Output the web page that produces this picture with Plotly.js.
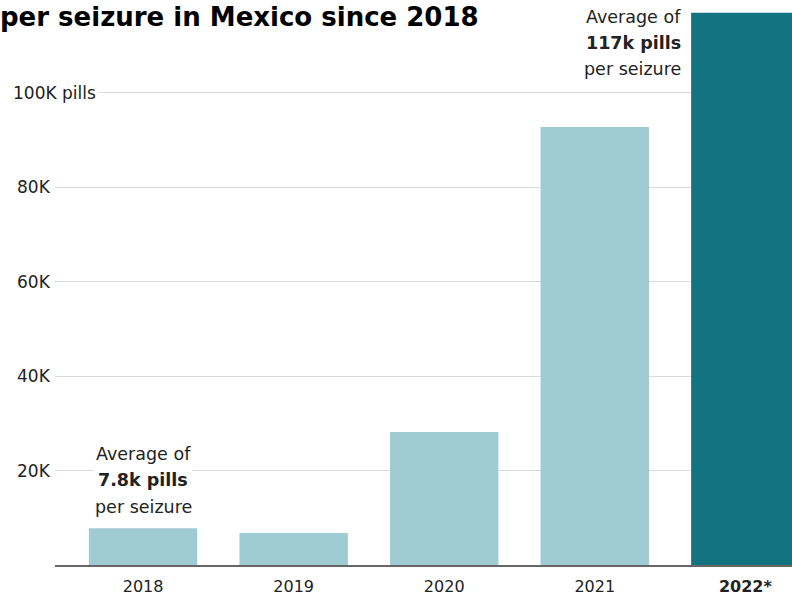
<!DOCTYPE html>
<html>
<head>
<meta charset="utf-8">
<script src="https://cdn.plot.ly/plotly-3.0.1.min.js"></script>
<style>html,body{margin:0;padding:0;background:#fff;}#chart{width:792px;height:596px;}</style>
</head>
<body>
<div id="chart"></div>
<script>
// Data
var years = ['2018', '2019', '2020', '2021', '2022*'];
var avgPills = [7800, 6800, 28200, 92800, 117000];
var barColors = ['#9fcbd3', '#9fcbd3', '#9fcbd3', '#9fcbd3', '#137380'];
var yTickVals = [20000, 40000, 60000, 80000, 100000];
var yTickLabels = ['20K', '40K', '60K', '80K', '100K pills'];
var xTickLabels = ['2018', '2019', '2020', '2021', '<b>2022*</b>'];
var titleText = 'per seizure in Mexico since 2018';
var noteFirst = ['Average of', '<b>7.8k pills</b>', 'per seizure'];
var noteLast = ['Average of', '<b>117k pills</b>', 'per seizure'];

var FONT = 'DejaVu Sans, Verdana, sans-serif';
var W = 792, H = 596, ML = 55, MR = 0, MT = 8, MB = 31;
var plotW = W - ML - MR, plotH = H - MT - MB;
function px2paperX(px) { return (px - ML) / plotW; }
function px2paperY(py) { return (H - MB - py) / plotH; }

var annotations = [];
// y tick labels
yTickVals.forEach(function (v, i) {
  var last = i === yTickVals.length - 1;
  annotations.push({
    xref: 'paper', yref: 'y',
    x: last ? px2paperX(10) : px2paperX(54), y: v,
    xanchor: last ? 'left' : 'right', yanchor: 'middle',
    text: yTickLabels[i], showarrow: false,
    bgcolor: '#fff', borderpad: 2,
    font: {family: FONT, size: 17, color: '#222'}
  });
});
// note over first bar
var firstYs = [454, 480, 507];
noteFirst.forEach(function (t, i) {
  annotations.push({
    xref: 'x', yref: 'paper', x: 0, y: px2paperY(firstYs[i]),
    xanchor: 'center', yanchor: 'middle', text: t, showarrow: false,
    bgcolor: '#fff', borderpad: 4,
    font: {family: FONT, size: 17.5, color: '#222'}
  });
});
// note beside last bar
var lastYs = [17, 43, 69];
noteLast.forEach(function (t, i) {
  annotations.push({
    xref: 'paper', yref: 'paper', x: px2paperX(684), y: px2paperY(lastYs[i]),
    xanchor: 'right', yanchor: 'middle', text: t, showarrow: false,
    bgcolor: '#fff', borderpad: 2,
    font: {family: FONT, size: 17.5, color: '#222'}
  });
});
// title (cropped at left in the reference)
annotations.push({
  xref: 'paper', yref: 'paper', x: px2paperX(-2), y: px2paperY(17),
  xanchor: 'left', yanchor: 'middle', text: '<b>' + titleText + '</b>', showarrow: false,
  font: {family: FONT, size: 26, color: '#000'}
});

var trace = {
  type: 'bar',
  x: [0, 1, 2, 3, 4],
  y: avgPills,
  marker: {color: barColors, line: {width: 0}},
  hoverinfo: 'skip'
};

var layout = {
  width: W, height: H,
  margin: {l: ML, r: MR, t: MT, b: MB, pad: 0},
  paper_bgcolor: '#fff', plot_bgcolor: '#fff',
  bargap: 0.28,
  showlegend: false,
  xaxis: {
    range: [-0.585, 4.31],
    tickvals: [0, 1, 2, 3, 4], ticktext: xTickLabels,
    showgrid: false, zeroline: false,
    showline: true, linecolor: '#666', linewidth: 2,
    ticks: '', ticklabelstandoff: 6,
    tickfont: {family: FONT, size: 16, color: '#222'}
  },
  yaxis: {
    range: [0, 118000],
    tickvals: yTickVals, showticklabels: false,
    showgrid: true, gridcolor: '#dcdcdc', gridwidth: 1,
    zeroline: false, showline: false, ticks: ''
  },
  annotations: annotations
};

Plotly.newPlot('chart', [trace], layout, {displayModeBar: false, staticPlot: true});
</script>
</body>
</html>
